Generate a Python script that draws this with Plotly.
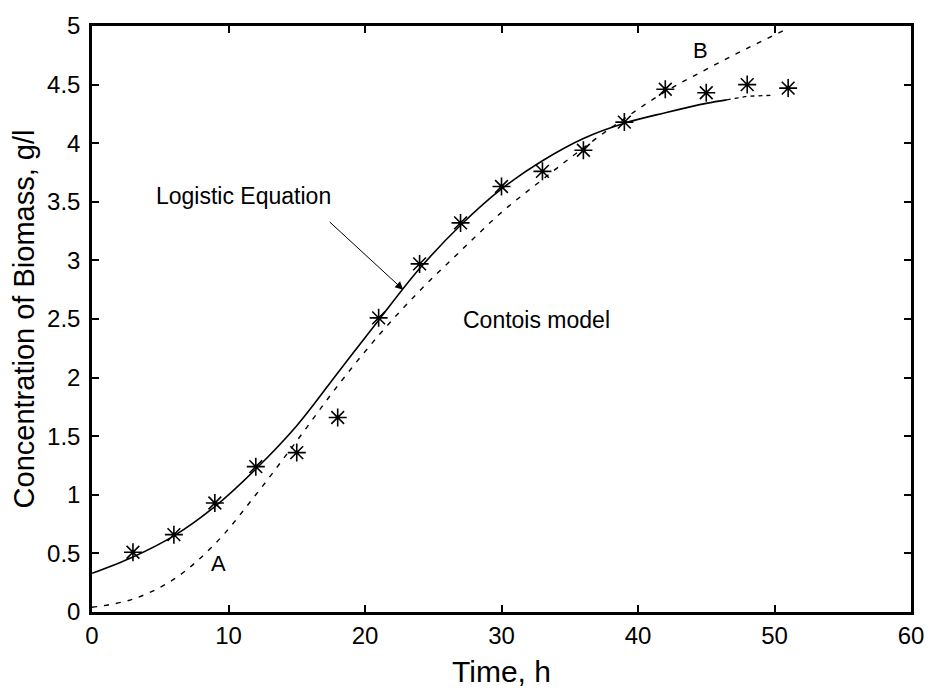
import plotly.graph_objects as go

# Experimental data (asterisks)
t_data = [3, 6, 9, 12, 15, 18, 21, 24, 27, 30, 33, 36, 39, 42, 45, 48, 51]
x_data = [0.51, 0.66, 0.93, 1.24, 1.36, 1.66, 2.51, 2.97, 3.32, 3.63, 3.76, 3.94, 4.18, 4.46, 4.43, 4.50, 4.47]

# Logistic equation (solid)
t_logistic = [0, 3, 6, 9, 12, 15, 18, 21, 24, 27, 30, 33, 36, 39, 42, 45, 46.5]
x_logistic = [0.33, 0.47, 0.65, 0.90, 1.22, 1.59, 2.04, 2.49, 2.93, 3.30, 3.61, 3.85, 4.04, 4.17, 4.26, 4.34, 4.37]
t_tail = [46.5, 48, 50]
x_tail = [4.37, 4.40, 4.41]

# Contois model (dashed)
t_contois = [0, 3, 6, 9, 12, 15, 18, 21, 24, 27, 30, 33, 36, 39, 42, 45, 48, 51]
x_contois = [0.04, 0.11, 0.28, 0.58, 1.00, 1.46, 1.93, 2.36, 2.74, 3.08, 3.41, 3.69, 3.96, 4.21, 4.44, 4.63, 4.81, 4.98]

x_ticks = [0, 10, 20, 30, 40, 50, 60]
y_ticks = [0, 0.5, 1, 1.5, 2, 2.5, 3, 3.5, 4, 4.5, 5]
y_tick_text = ["0", "0.5", "1", "1.5", "2", "2.5", "3", "3.5", "4", "4.5", "5"]

FONT = "Liberation Sans, Arial, Helvetica, sans-serif"

fig = go.Figure()
fig.add_trace(go.Scatter(x=t_contois, y=x_contois, mode="lines",
                         line=dict(color="black", width=1.4, dash="5px,7px", shape="spline"),
                         showlegend=False))
fig.add_trace(go.Scatter(x=t_logistic, y=x_logistic, mode="lines",
                         line=dict(color="black", width=1.6, shape="spline"),
                         showlegend=False))
fig.add_trace(go.Scatter(x=t_tail, y=x_tail, mode="lines",
                         line=dict(color="black", width=1.3, dash="4px,4px"),
                         showlegend=False))
fig.add_trace(go.Scatter(x=t_data, y=x_data, mode="markers",
                         marker=dict(symbol="asterisk-open", size=15, color="black",
                                     line=dict(color="black", width=1.6)),
                         showlegend=False))

fig.add_annotation(x=22.8, y=2.75, ax=17.3, ay=3.34, xref="x", yref="y", axref="x", ayref="y",
                   text="", showarrow=True, arrowhead=2, arrowsize=1.6, arrowwidth=1, arrowcolor="black")
fig.add_annotation(x=11.1, y=3.55, text="Logistic Equation", showarrow=False,
                   font=dict(family=FONT, size=23, color="black"))
fig.add_annotation(x=32.6, y=2.49, text="Contois model", showarrow=False,
                   font=dict(family=FONT, size=23, color="black"))
fig.add_annotation(x=9.3, y=0.41, text="A", showarrow=False,
                   font=dict(family=FONT, size=22, color="black"))
fig.add_annotation(x=44.6, y=4.79, text="B", showarrow=False,
                   font=dict(family=FONT, size=22, color="black"))

axis_common = dict(showgrid=False, zeroline=False, showline=True, linecolor="black", linewidth=2.5,
                   mirror="ticks", ticks="inside", ticklen=7, tickwidth=2, tickcolor="black",
                   tickfont=dict(family=FONT, size=24, color="black"))

fig.update_xaxes(range=[0, 60], tickvals=x_ticks, ticktext=[str(v) for v in x_ticks],
                 title=dict(text="Time, h", font=dict(family=FONT, size=30, color="black"), standoff=14),
                 **axis_common)
fig.update_yaxes(range=[0, 5], tickvals=y_ticks, ticktext=y_tick_text,
                 ticklabelstandoff=4,
                 title=dict(text="Concentration of Biomass, g/l", font=dict(family=FONT, size=29, color="black"),
                            standoff=4),
                 **axis_common)

fig.update_layout(width=936, height=696, autosize=False,
                  margin=dict(l=92, r=20, t=19, b=82),
                  paper_bgcolor="white", plot_bgcolor="white")

fig.write_html("out.html")
